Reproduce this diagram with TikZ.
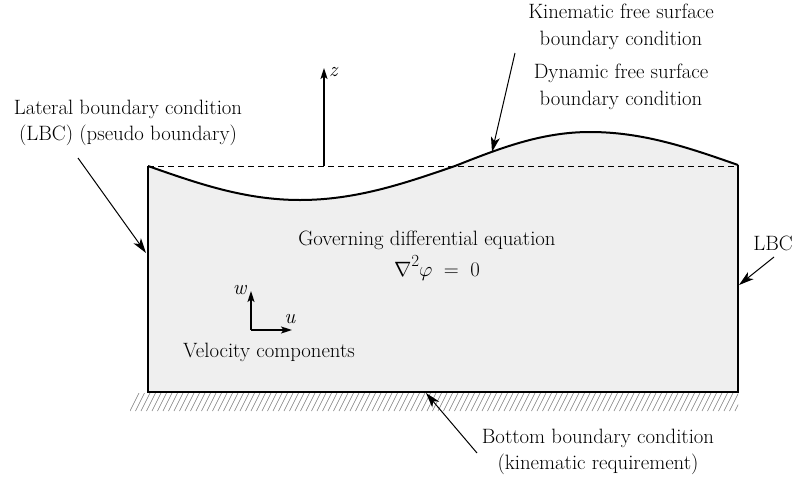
\documentclass[tikz,border=0pt]{standalone}
\usetikzlibrary{arrows.meta}
\definecolor{waterfill}{HTML}{EFEFEF}
\definecolor{hatchgray}{HTML}{7A7A7A}
\begin{document}
\begin{tikzpicture}[x=1pt,y=-1pt,
  lbl/.style={font=\fontsize{20.74}{26.5}\selectfont, align=center, inner sep=0pt},
  pointer/.style={line width=1pt, -{Stealth[length=15pt,width=9pt,inset=4pt]}},
  axisarrow/.style={line width=1.5pt, -{Stealth[length=11pt,width=7pt,inset=2.5pt]}},
  wall/.style={line width=1.6pt},
  surface/.style={line width=2pt},
  meanlevel/.style={line width=0.9pt, dash pattern=on 6pt off 4pt},
  hatchline/.style={line width=0.6pt, hatchgray}]
\useasboundingbox (0,0) rectangle (793,480);

% fluid domain
\coordinate (TL) at (148,166);
\coordinate (TR) at (738,165);
\coordinate (BL) at (148,392);
\coordinate (BR) at (738,392);
\fill[waterfill] (TL) sin (300,200) cos (455,166) sin (590,132) cos (TR) -- (BR) -- (BL) -- cycle;

% hatching of the sea bed
\begin{scope}
  \clip (130,393) rectangle (738,415);
  \foreach \x in {130,135.5,...,740} {
    \draw[hatchline] (\x,411) -- (\x+9,393);
  }
\end{scope}

% mean level
\draw[meanlevel] (148,166.5) -- (738,166.5);

% walls and surface
\draw[wall] (TL) -- (BL) -- (BR) -- (TR);
\draw[surface] (TL) sin (300,200) cos (455,166) sin (590,132) cos (TR);

% z axis
\coordinate (zbase) at (324,166);
\coordinate (ztip) at (324,68);
\draw[axisarrow] (zbase) -- (ztip);
\node[lbl, anchor=west] (zlab) at (329,72) {\textit{z}};

% velocity components
\coordinate (vo) at (251,330);
\coordinate (vw) at (251,291);
\coordinate (vu) at (292,330);
\draw[axisarrow] (vo) -- (vw);
\draw[axisarrow] (vo) -- (vu);
\node[lbl] (wlab) at (240,290) {\textit{w}};
\node[lbl] (ulab) at (290,319) {\textit{u}};
\node[lbl] (vel) at (269,352) {Velocity components};

% governing equation
\node[lbl] (gov) at (427,240) {Governing differential equation};
\node[lbl] (eq) at (437,268) {$\nabla$\raisebox{0.5em}{\fontsize{17}{17}\selectfont 2}$\varphi\;=\;0$};

% lateral boundary
\node[lbl] (lat) at (128,123) {Lateral boundary condition\\(LBC) (pseudo boundary)};
\coordinate (latS) at (78,158);
\coordinate (latE) at (146,253);
\draw[pointer] (latS) -- (latE);

% right LBC
\node[lbl] (lbc) at (773,243) {LBC};
\coordinate (lbcS) at (774,257);
\coordinate (lbcE) at (739,285);
\draw[pointer] (lbcS) -- (lbcE);

% free surface
\node[lbl] (kin) at (621,27) {Kinematic free surface\\boundary condition};
\node[lbl] (dyn) at (621,87) {Dynamic free surface\\boundary condition};
\coordinate (fsS) at (515,53);
\coordinate (fsE) at (492,152);
\draw[pointer] (fsS) -- (fsE);

% bottom
\node[lbl] (bot) at (598,452) {Bottom boundary condition\\(kinematic requirement)};
\coordinate (botS) at (477,453);
\coordinate (botE) at (426,393);
\draw[pointer] (botS) -- (botE);
\end{tikzpicture}
\end{document}
